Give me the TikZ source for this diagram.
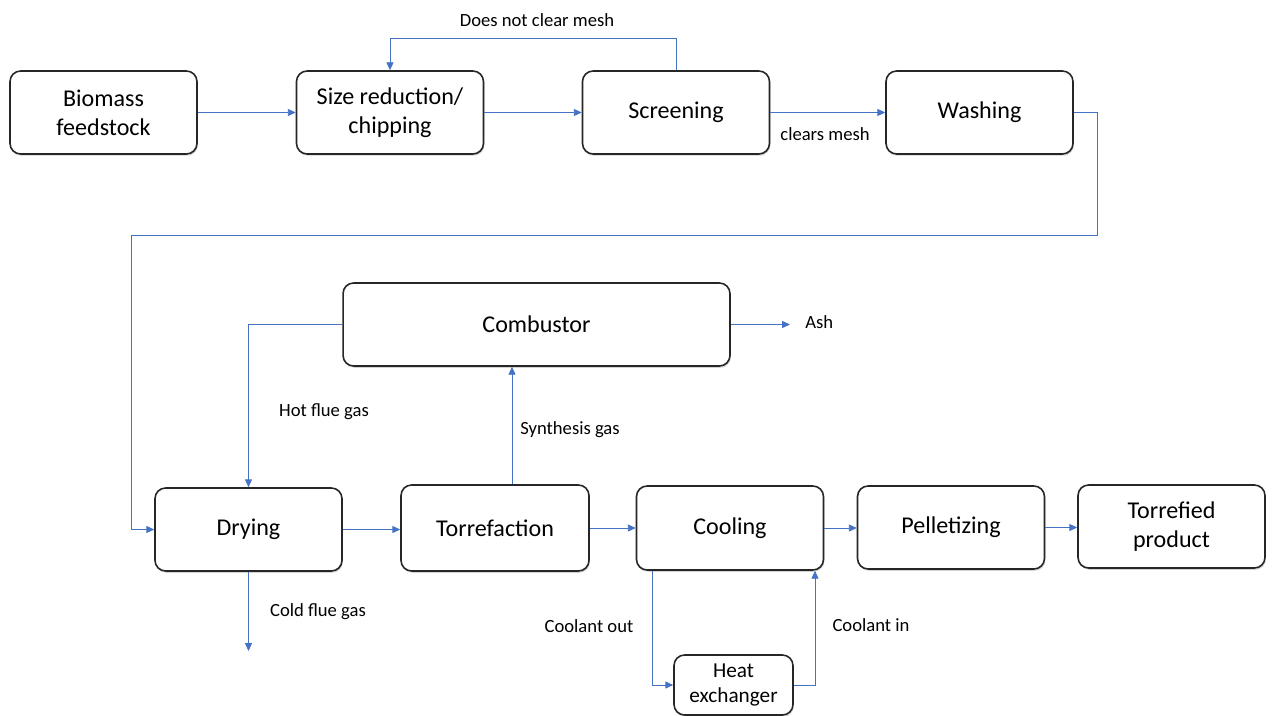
\documentclass[tikz,border=0pt]{standalone}
\usepackage{fontspec}
\setmainfont{Carlito}
\usetikzlibrary{arrows.meta,shadows}
\definecolor{flowblue}{HTML}{4472C4}
\begin{document}
\begin{tikzpicture}[x=0.02cm,y=-0.02cm,
  box/.style={draw=black!85,line width=0.9pt,rounded corners=6pt,fill=white,
    align=center,inner sep=0pt,minimum width=3.74cm,minimum height=1.66cm,
    font=\fontsize{13.7}{16.4}\selectfont,
    drop shadow={shadow xshift=0.5pt,shadow yshift=-1pt,opacity=0.35}},
  flow/.style={draw=flowblue,line width=0.5pt,-{Triangle[length=4.5pt,width=4pt]}},
  lbl/.style={inner sep=0pt,font=\fontsize{10.6}{12.7}\selectfont}]
\useasboundingbox (0,0) rectangle (1277,716);
\node [box] (bio) at (103.5,112.5) {Biomass\\feedstock};
\node [box] (size) at (390,112.5) {Size reduction/\\chipping};
\node [box] (screen) at (676,112.5) {Screening};
\node [box] (wash) at (979.5,112.5) {Washing};
\node [box,minimum width=7.74cm] (comb) at (536.5,324.5) {Combustor};
\node [box] (dry) at (248.5,529.5) {Drying};
\node [box,minimum width=3.76cm,minimum height=1.72cm] (torr) at (495,528) {Torrefaction};
\node [box,minimum height=1.68cm] (cool) at (730,528) {Cooling};
\node [box] (pel) at (951,527.5) {Pelletizing};
\node [box] (prod) at (1171.5,526.5) {Torrefied\\product};
\node [box,minimum width=2.38cm,minimum height=1.2cm,font=\fontsize{12.1}{14.2}\selectfont] (hx) at (733.5,685) {Heat\\exchanger};
\coordinate (ash) at (790,324.5);
\coordinate (cold) at (248.5,651);
\node [lbl] (nomesh) at (537,20) {Does not clear mesh};
\node [lbl] (mesh) at (825,134) {clears mesh};
\node [lbl,anchor=west] (ashlbl) at (805,322) {Ash};
\node [lbl] (hot) at (324,412) {Hot flue gas};
\node [lbl] (syn) at (570,430) {Synthesis gas};
\node [lbl] (coldlbl) at (318,612) {Cold flue gas};
\node [lbl] (out) at (589,626) {Coolant out};
\node [lbl] (in) at (871,625) {Coolant in};
\draw [flow] (bio) -- (size);
\draw [flow] (size) -- (screen);
\draw [flow] (screen) -- (wash);
\draw [flow] (screen.north) |- (390,38) -- (size.north);
\draw [flow] (wash.east) -| (1097,235) -| (131,529.5) -- (dry.west);
\draw [flow] (comb.west) -| (dry.north);
\draw [flow] (torr.north -| 512,0) -- (comb.south -| 512,0);
\draw [flow] (comb.east) -- (ash);
\draw [flow] (dry.south) -- (cold);
\draw [flow] (dry.east) -- (torr.west |- dry.east);
\draw [flow] (torr.east) -- (cool.west);
\draw [flow] (cool.east) -- (pel.west |- cool.east);
\draw [flow] (pel.east) -- (prod.west |- pel.east);
\draw [flow] (cool.south -| 652,0) |- (hx.west);
\draw [flow] (hx.east) -| (cool.south -| 815,0);
\end{tikzpicture}
\end{document}
